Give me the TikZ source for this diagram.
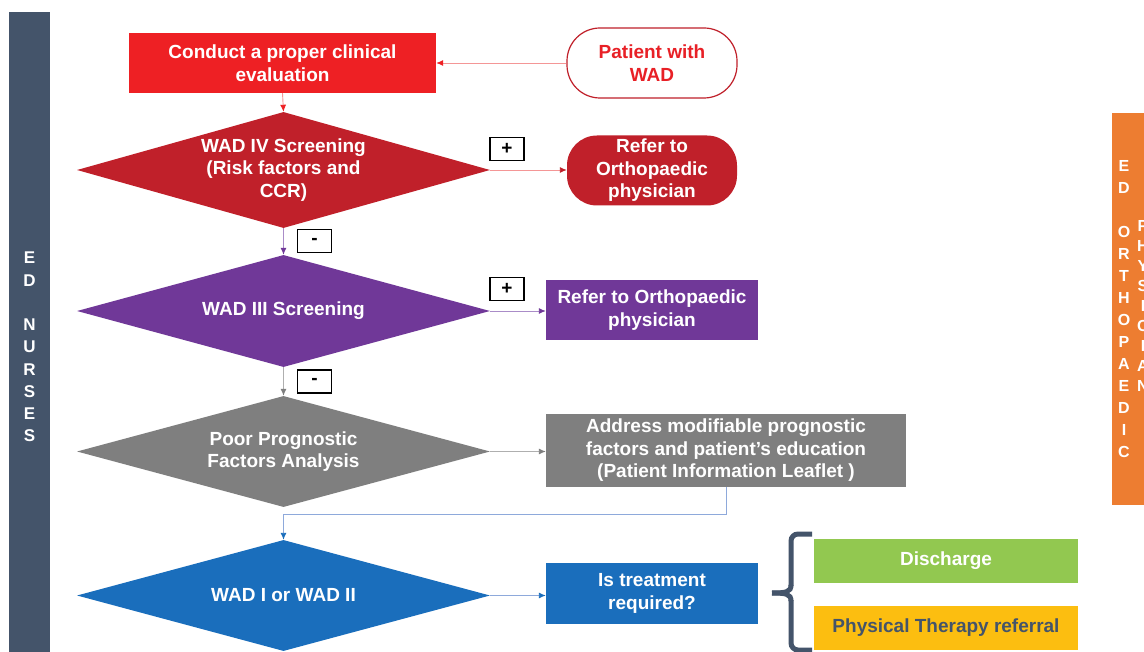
\documentclass[tikz,border=0pt]{standalone}
\usepackage{fontspec}
\setmainfont{Liberation Sans}
\usetikzlibrary{shapes.geometric,arrows.meta}
\definecolor{slate}{RGB}{68,84,106}
\definecolor{orangebar}{RGB}{237,125,49}
\definecolor{brightred}{RGB}{238,32,36}
\definecolor{darkred}{RGB}{192,32,42}
\definecolor{purp}{RGB}{112,56,152}
\definecolor{greyb}{RGB}{127,127,127}
\definecolor{blueb}{RGB}{26,110,188}
\definecolor{greenb}{RGB}{146,200,80}
\definecolor{yellowb}{RGB}{252,190,16}
\definecolor{pinkline}{RGB}{244,150,150}
\definecolor{lavline}{RGB}{170,140,200}
\definecolor{lblue}{RGB}{142,169,219}
\definecolor{lgrey}{RGB}{175,175,175}
\definecolor{redtext}{RGB}{232,32,38}
\tikzset{
  base/.style={font=\bfseries\fontsize{19}{22.5}\selectfont, text=white, align=center, inner sep=0pt},
  boxn/.style={base, rectangle, minimum width=#1},
  dia/.style 2 args={base, diamond, aspect=3.56, minimum width=413pt, minimum height=#1, fill=#2},
  sign/.style={base, text=black, draw=black, line width=1.4pt, fill=white, minimum width=34pt, minimum height=23pt},
  conn/.style={line width=0.9pt, draw=#1},
  tip/.style={-{Latex[length=7pt,width=6pt,color=#1]}},
}
\begin{document}
\begin{tikzpicture}[x=1pt,y=-1pt]
\clip (0,0) rectangle (1144,652);
\fill[white] (0,0) rectangle (1144,652);
% side bars
\fill[slate] (9,12) rectangle (50,660);
\node[base, font=\bfseries\fontsize{17}{22.25}\selectfont] (nurses) at (29.5,347) {E\\D\\~\\N\\U\\R\\S\\E\\S};
\fill[orangebar] (1112,113) rectangle (1170,505);
\node[base, font=\bfseries\fontsize{16}{22}\selectfont] (ortho) at (1124,309) {E\\D\\~\\O\\R\\T\\H\\O\\P\\A\\E\\D\\I\\C};
\node[base, font=\bfseries\fontsize{16}{20}\selectfont] (phys) at (1143,306) {P\\H\\Y\\S\\I\\C\\I\\A\\N};
% nodes
\node[boxn=307pt, minimum height=60pt, fill=brightred] (eval) at (282.5,63) {Conduct a proper clinical\\evaluation};
\node[boxn=170pt, minimum height=70pt, fill=white, draw=darkred, line width=1.2pt, rounded corners=33pt, text=redtext] (patient) at (652,63) {Patient with\\WAD};
\node[dia={116pt}{darkred}] (wad4) at (283.5,170) {WAD IV Screening\\(Risk factors and\\CCR)};
\node[sign] (plus1) at (507,149) {+};
\node[boxn=170pt, minimum height=70pt, fill=darkred, rounded corners=30pt] (refer1) at (652,170.5) {Refer to\\Orthopaedic\\physician};
\node[sign] (minus1) at (314.5,241) {-};
\node[dia={112pt}{purp}] (wad3) at (283.5,311) {WAD III Screening};
\node[sign] (plus2) at (507,289) {+};
\node[boxn=212pt, minimum height=60pt, fill=purp] (refer2) at (652,310) {Refer to Orthopaedic\\physician};
\node[sign] (minus2) at (314.5,381.5) {-};
\node[dia={111pt}{greyb}] (poor) at (283.5,451.5) {Poor Prognostic\\Factors Analysis};
\node[boxn=360pt, minimum height=73pt, fill=greyb] (addr) at (726,450.5) {Address modifiable prognostic\\factors and patient’s education\\(Patient Information Leaflet )};
\node[dia={111pt}{blueb}] (wad12) at (283.5,595.5) {WAD I or WAD II};
\node[boxn=212pt, minimum height=61pt, fill=blueb] (treat) at (652,593.5) {Is treatment\\required?};
\node[boxn=264pt, minimum height=44pt, fill=greenb] (disch) at (946,561) {Discharge};
\node[boxn=264pt, minimum height=44pt, fill=yellowb, text=slate] (ptref) at (946,628) {Physical Therapy referral};
% connectors
\draw[conn=pinkline, tip=brightred] (patient.west) -- (eval.east);
\draw[conn=pinkline, tip=brightred] (eval.south) -- (wad4.north);
\draw[conn=pinkline, tip=darkred] (wad4.east) -- (wad4.east -| refer1.west);
\draw[conn=lavline, tip=purp] (wad4.south) -- (wad3.north);
\draw[conn=lavline, tip=purp] (wad3.east) -- (wad3.east -| refer2.west);
\draw[conn=lgrey, tip=greyb] (wad3.south) -- (poor.north);
\draw[conn=lgrey, tip=greyb] (poor.east) -- (poor.east -| addr.west);
\draw[conn=lblue, tip=blueb] (addr.south) -- ++(0,27) -| (wad12.north);
\draw[conn=lblue, tip=blueb] (wad12.east) -- (wad12.east -| treat.west);
% brace
\draw[slate, line width=5pt, rounded corners=7pt] (812,534) -- (791,534) -- (791,586);
\draw[slate, line width=5pt] (791,585) .. controls (791,592) and (786,593) .. (772,593);
\draw[slate, line width=5pt] (791,601) .. controls (791,594) and (786,593) .. (772,593);
\draw[slate, line width=5pt, rounded corners=7pt] (791,600) -- (791,650) -- (812,650);
\end{tikzpicture}
\end{document}
